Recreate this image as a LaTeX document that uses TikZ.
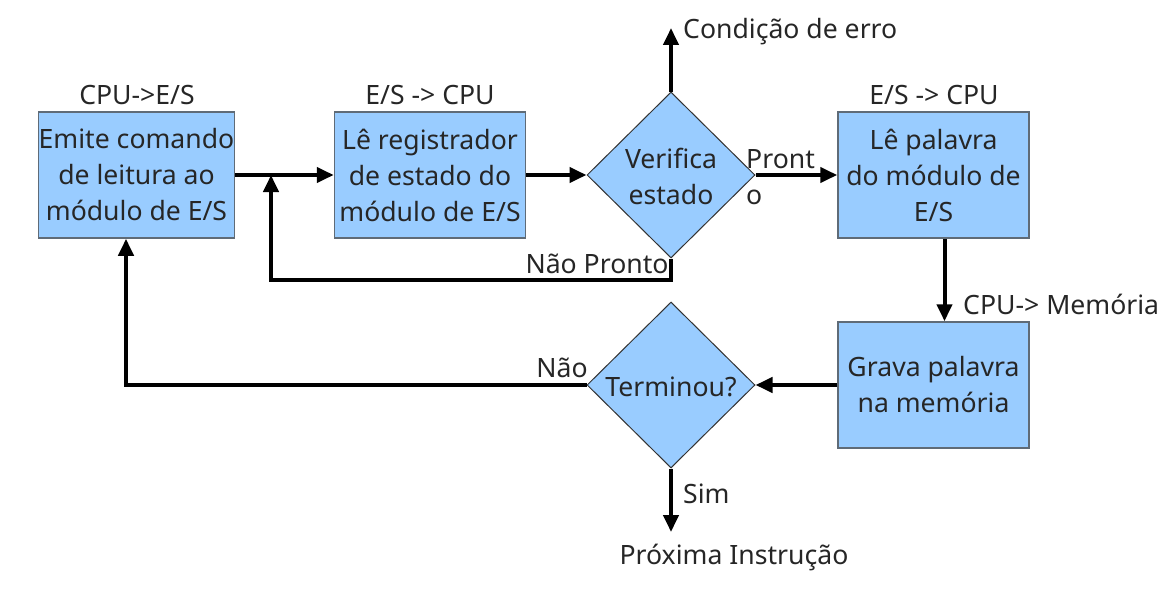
\documentclass[tikz,border=0pt]{standalone}
\usepackage{fontspec}
\setmainfont{Noto Sans}
\usetikzlibrary{shapes.geometric,arrows.meta}
\definecolor{boxfill}{HTML}{99CCFF}
\definecolor{boxline}{HTML}{5F6B77}
\definecolor{txt}{HTML}{262626}
\tikzset{
  every node/.style={text=txt,font=\fontsize{26.6}{36}\selectfont},
  box/.style={draw=boxline,line width=1.5pt,fill=boxfill,minimum width=191pt,minimum height=126pt,align=center,inner sep=0pt},
  dia/.style={draw=black!80,line width=1pt,fill=boxfill,diamond,minimum width=168pt,minimum height=166pt,inner sep=0pt},
  lbl/.style={align=center,inner sep=0pt},
  arr/.style={line width=4pt,-{Triangle[length=17pt,width=15pt]}},
  ln/.style={line width=4pt}
}
\begin{document}
\begin{tikzpicture}[x=1pt,y=-1pt]
\useasboundingbox (0,0) rectangle (1170,594);
\node[box] (b1) at (136.5,175) {Emite comando\\de leitura ao\\módulo de E/S};
\node[box] (b2) at (430,175) {Lê registrador\\de estado do\\módulo de E/S};
\node[dia] (d1) at (671,175) {};
\node[lbl] (d1t) at (671,176) {Verifica\\estado};
\node[box] (b3) at (933.5,175) {Lê palavra\\do módulo de\\E/S};
\node[box] (b4) at (933.5,385) {Grava palavra\\na memória};
\node[dia] (d2) at (671,385) {};
\node[lbl] (d2t) at (671,387) {Terminou?};
\node[lbl] (l1) at (137,95) {CPU->E/S};
\node[lbl] (l2) at (430,95) {E/S -> CPU};
\node[lbl] (l3) at (934,95) {E/S -> CPU};
\node[lbl,anchor=west] (lerr) at (683,32) {Condição de erro};
\node[lbl,anchor=west,align=left] (lpr) at (746,177) {Pront\\o};
\node[lbl] (lnp) at (597,264) {Não Pronto};
\node[lbl,anchor=west] (lmem) at (963,304) {CPU-> Memória};
\node[lbl] (lnao) at (562,368) {Não};
\node[lbl,anchor=west] (lsim) at (683,494) {Sim};
\node[lbl] (lprox) at (734,557) {Próxima Instrução};
\coordinate (j) at (271,175);
\coordinate (err) at (671,28);
\coordinate (nxt) at (671,532);
\draw[arr] (b1.east) -- (b2.west);
\draw[arr] (b2.east) -- (d1.west);
\draw[arr] (d1.south) -- ++(0,21) -| (j);
\draw[arr] (d1.north) -- (err);
\draw[arr] (d1.east) -- (b3.west);
\draw[arr] ([xshift=11pt]b3.south) -- ([xshift=11pt]b4.north);
\draw[arr] (b4.west) -- (d2.east);
\draw[arr] (d2.west) -| ([xshift=-10.5pt]b1.south);
\draw[arr] (d2.south) -- (nxt);
\end{tikzpicture}
\end{document}
